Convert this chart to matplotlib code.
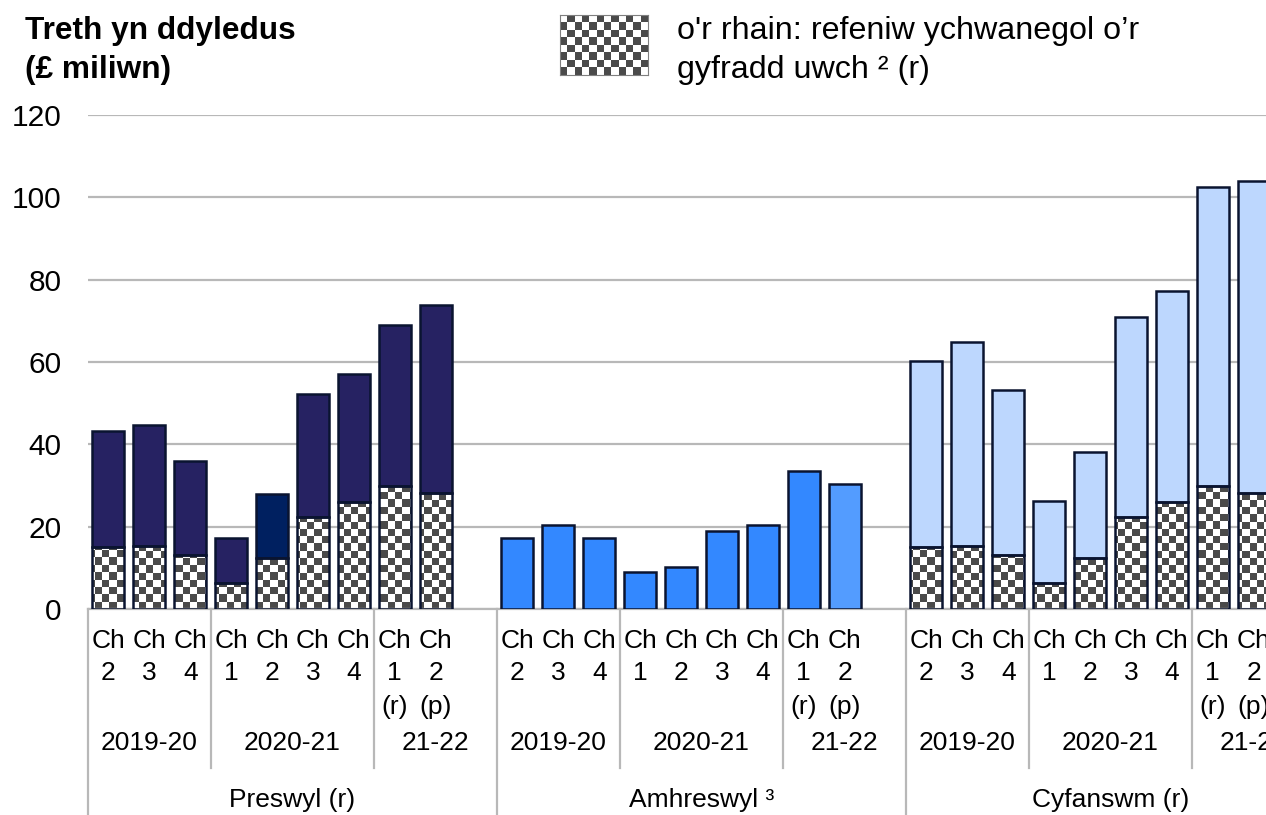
import numpy as np
import matplotlib
matplotlib.use("Agg")
import matplotlib.pyplot as plt
from matplotlib.colors import ListedColormap
from matplotlib.transforms import blended_transform_factory

plt.rcParams['font.family'] = ['Liberation Sans', 'DejaVu Sans']

# categories
groups = ['Preswyl (r)', 'Amhreswyl ³', 'Cyfanswm (r)']
years = ['2019-20', '2020-21', '21-22']
year_sizes = [3, 4, 2]
q_row1 = ['Ch'] * 9
q_row2 = ['2', '3', '4', '1', '2', '3', '4', '1', '2']
q_row3 = ['', '', '', '', '', '', '', '(r)', '(p)']

# values, £ million
preswyl_total = [43.2, 44.8, 36.0, 17.3, 27.9, 52.2, 57.1, 69.0, 73.8]
higher_rate = [15.1, 15.3, 13.2, 6.2, 12.3, 22.3, 25.9, 29.9, 28.1]
amhreswyl_total = [17.2, 20.3, 17.3, 9.1, 10.3, 18.9, 20.3, 33.5, 30.4]
cyfanswm_total = [60.2, 64.9, 53.2, 26.2, 38.1, 70.9, 77.3, 102.5, 104.0]

preswyl_colors = ['#262262'] * 4 + ['#002060'] + ['#262262'] * 4
amhreswyl_colors = ['#3388FF'] * 8 + ['#539CFF']
cyfanswm_colors = ['#BDD7FE'] * 9
edge = '#0A1430'
grid_col = '#B8B8B8'
dark_sq = '#4A4A4A'

W, H = 1266, 815
fig = plt.figure(figsize=(W / 100, H / 100), dpi=100)
ax = fig.add_axes([88 / W, (H - 609) / H, 1227 / W, 494 / H])

slots = 10
bar_w = 0.78
lw = 1.8
checker_cmap = ListedColormap(['white', dark_sq])
nx, ny = 168, 68
checker = np.add.outer(np.arange(ny), np.arange(nx)) % 2


def checker_bars(xs, heights):
    rects = ax.bar(xs, heights, width=bar_w, facecolor='none', edgecolor=edge,
                   linewidth=lw, zorder=3)
    for r in rects:
        im = ax.imshow(checker, extent=(0, 30, 0, 120), origin='lower', aspect='auto',
                       interpolation='nearest', cmap=checker_cmap, zorder=2)
        im.set_clip_path(r)


xs = [[g * slots + i + 0.5 for i in range(9)] for g in range(3)]

# Preswyl
upper = np.array(preswyl_total) - np.array(higher_rate)
ax.bar(xs[0], upper, bottom=higher_rate, width=bar_w, color=preswyl_colors,
       edgecolor=edge, linewidth=lw, zorder=3)
checker_bars(xs[0], higher_rate)

# Amhreswyl
ax.bar(xs[1], amhreswyl_total, width=bar_w, color=amhreswyl_colors,
       edgecolor=edge, linewidth=lw, zorder=3)

# Cyfanswm
upper = np.array(cyfanswm_total) - np.array(higher_rate)
ax.bar(xs[2], upper, bottom=higher_rate, width=bar_w, color=cyfanswm_colors,
       edgecolor=edge, linewidth=lw, zorder=3)
checker_bars(xs[2], higher_rate)

ax.set_xlim(0, 30)
ax.set_ylim(0, 120)
ax.set_yticks(range(0, 121, 20))
ax.tick_params(axis='y', length=0, labelsize=21.5, pad=19)
ax.set_xticks([])
ax.set_axisbelow(True)
ax.grid(axis='y', color=grid_col, linewidth=1.6)
for s in ['top', 'right', 'left']:
    ax.spines[s].set_visible(False)
ax.spines['bottom'].set_color(grid_col)
ax.spines['bottom'].set_linewidth(1.6)

# multi-level category axis
tr = blended_transform_factory(ax.transData, fig.transFigure)


def fy(px):
    return 1 - px / H


for g in range(3):
    base = g * slots
    for i in range(9):
        x = xs[g][i]
        ax.text(x, fy(641), q_row1[i], transform=tr, ha='center', va='center', fontsize=19)
        ax.text(x, fy(673), q_row2[i], transform=tr, ha='center', va='center', fontsize=19)
        if q_row3[i]:
            ax.text(x, fy(707), q_row3[i], transform=tr, ha='center', va='center', fontsize=19)
    start = base
    for y_lab, n in zip(years, year_sizes):
        end = start + n if y_lab != years[-1] else base + slots
        ax.text((start + end) / 2, fy(743), y_lab, transform=tr, ha='center',
                va='center', fontsize=19)
        if start != base:
            ax.plot([start, start], [fy(609), fy(768)], transform=tr, color=grid_col,
                    linewidth=1.6, clip_on=False)
        start = end
    ax.text(base + slots / 2, fy(800), groups[g], transform=tr, ha='center',
            va='center', fontsize=19)
    ax.plot([base, base], [fy(609), 0], transform=tr, color=grid_col,
            linewidth=1.6, clip_on=False)
ax.plot([30, 30], [fy(609), 0], transform=tr, color=grid_col, linewidth=1.6, clip_on=False)

# title
fig.text(25 / W, fy(16), 'Treth yn ddyledus\n(£ miliwn)', fontsize=22.8,
         fontweight='bold', va='top', ha='left', linespacing=1.38)

# legend
lax = fig.add_axes([560 / W, fy(75), 88 / W, 60 / H])
lax.imshow(np.add.outer(np.arange(8), np.arange(12)) % 2, cmap=checker_cmap,
           aspect='auto', interpolation='nearest')
lax.set_xticks([])
lax.set_yticks([])
for s in lax.spines.values():
    s.set_color('#7F7F7F')
    s.set_linewidth(0.8)
fig.text(677 / W, fy(16), "o'r rhain: refeniw ychwanegol o’r\ngyfradd uwch ² (r)",
         fontsize=23.2, va='top', ha='left', linespacing=1.38)

fig.savefig('out.png', dpi=100)
